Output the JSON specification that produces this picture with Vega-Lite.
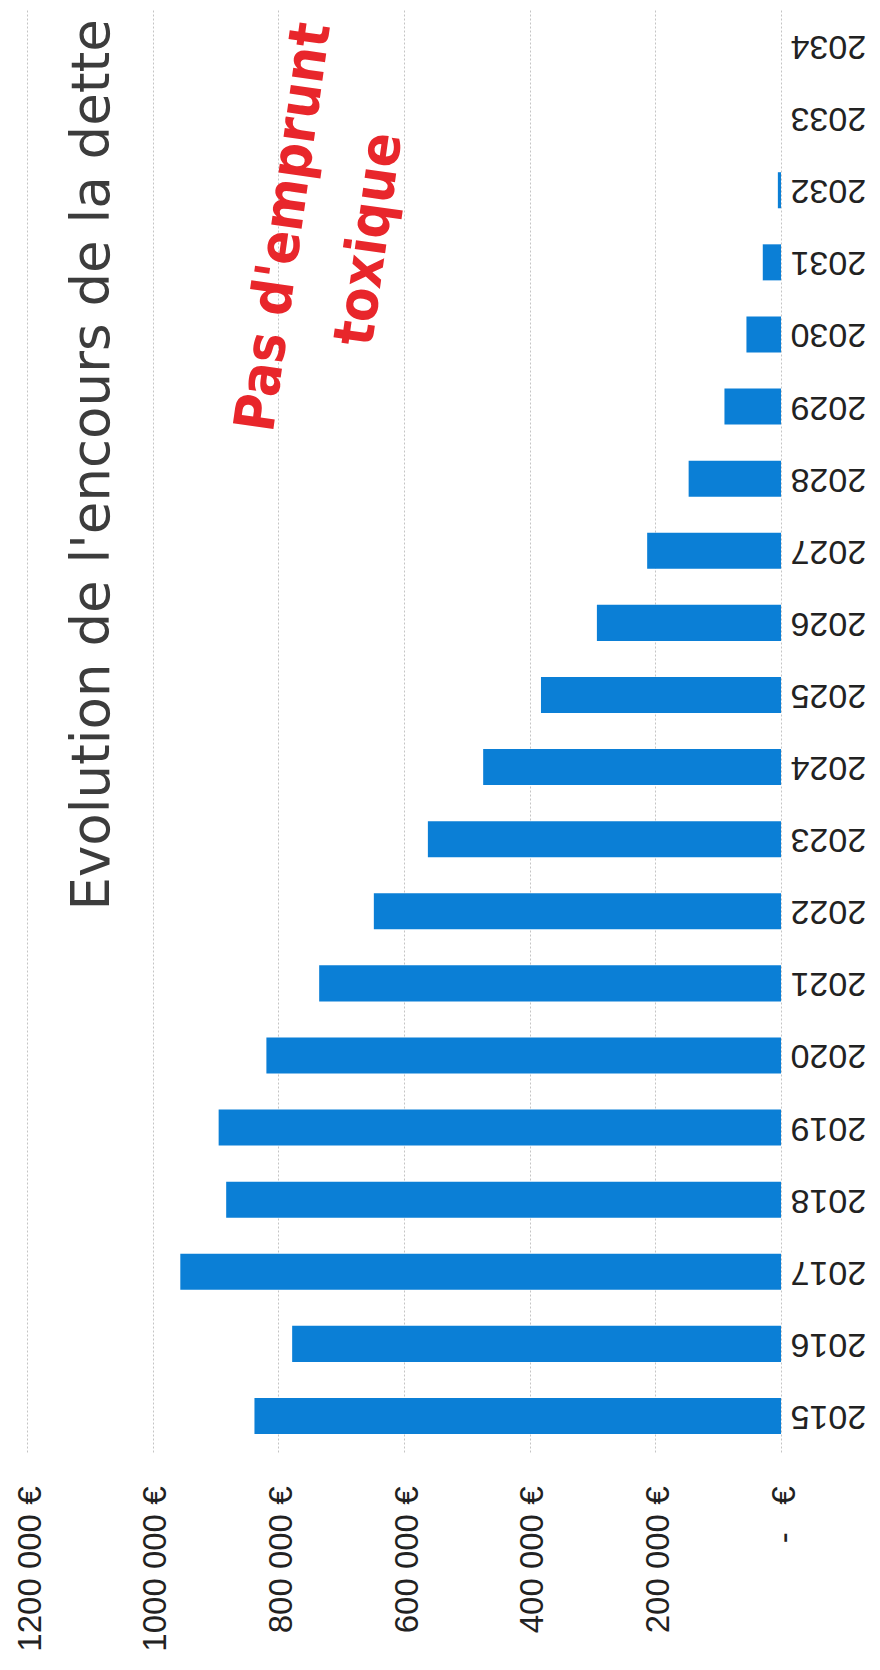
{
  "$schema": "https://vega.github.io/schema/vega-lite/v6.json",
  "width": 754,
  "height": 1442,
  "autosize": {"type": "none"},
  "padding": {"left": 27, "top": 10, "right": 99, "bottom": 218},
  "background": "white",
  "config": {"view": {"stroke": null}},
  "data": {
    "values": [
      {"annee": "2015", "encours": 838000},
      {"annee": "2016", "encours": 778000},
      {"annee": "2017", "encours": 956000},
      {"annee": "2018", "encours": 883000},
      {"annee": "2019", "encours": 895000},
      {"annee": "2020", "encours": 819000},
      {"annee": "2021", "encours": 735000},
      {"annee": "2022", "encours": 648000},
      {"annee": "2023", "encours": 562000},
      {"annee": "2024", "encours": 474000},
      {"annee": "2025", "encours": 382000},
      {"annee": "2026", "encours": 293000},
      {"annee": "2027", "encours": 213000},
      {"annee": "2028", "encours": 147000},
      {"annee": "2029", "encours": 90000},
      {"annee": "2030", "encours": 55000},
      {"annee": "2031", "encours": 29000},
      {"annee": "2032", "encours": 5000},
      {"annee": "2033", "encours": 0},
      {"annee": "2034", "encours": 0}
    ]
  },
  "layer": [
    {
      "mark": {"type": "bar", "color": "#0b7fd6"},
      "encoding": {
        "y": {
          "field": "annee",
          "type": "ordinal",
          "sort": "descending",
          "scale": {"paddingInner": 0.5, "paddingOuter": 0.25},
          "axis": {
            "orient": "right",
            "title": null,
            "domain": false,
            "ticks": false,
            "grid": false,
            "labelAngle": 180,
            "labelAlign": "right",
            "labelBaseline": "middle",
            "labelFont": "Liberation Sans",
            "labelFontSize": 34,
            "labelColor": "#222222",
            "labelPadding": 9
          }
        },
        "x": {
          "field": "encours",
          "type": "quantitative",
          "scale": {"domain": [0, 1200000], "reverse": true, "nice": false},
          "axis": {
            "orient": "bottom",
            "title": null,
            "values": [0, 200000, 400000, 600000, 800000, 1000000, 1200000],
            "labelExpr": "datum.value == 0 ? '-\u00a0\u00a0\u00a0€' : floor(datum.value / 1000) + '\u00a0000\u00a0€'",
            "labelAngle": -90,
            "labelFont": "Liberation Sans",
            "labelFontSize": 33,
            "labelColor": "#222222",
            "labelPadding": 34,
            "labelOffset": 3,
            "ticks": false,
            "domain": false,
            "grid": true,
            "gridColor": "#c4c4c4",
            "gridDash": [2, 2],
            "gridWidth": 1
          }
        }
      }
    },
    {
      "data": {"values": [{}]},
      "mark": {
        "type": "text",
        "text": "Evolution de l'encours de la dette",
        "font": "DejaVu Sans",
        "fontSize": 53,
        "color": "#3c3c3c",
        "angle": -90,
        "align": "right",
        "baseline": "middle",
        "yOffset": -27
      },
      "encoding": {
        "x": {"datum": 1095000, "type": "quantitative"},
        "y": {"datum": "2034", "type": "ordinal"}
      }
    },
    {
      "data": {"values": [{}]},
      "mark": {
        "type": "text",
        "text": ["Pas d'emprunt", "toxique"],
        "font": "DejaVu Sans Condensed, Roboto, sans-serif",
        "fontWeight": "bold",
        "fontSize": 56,
        "lineHeight": 86,
        "color": "#e8262b",
        "angle": -82,
        "align": "center",
        "baseline": "middle",
        "yOffset": 37
      },
      "encoding": {
        "x": {"datum": 790000, "type": "quantitative"},
        "y": {"datum": "2032", "type": "ordinal"}
      }
    }
  ]
}
